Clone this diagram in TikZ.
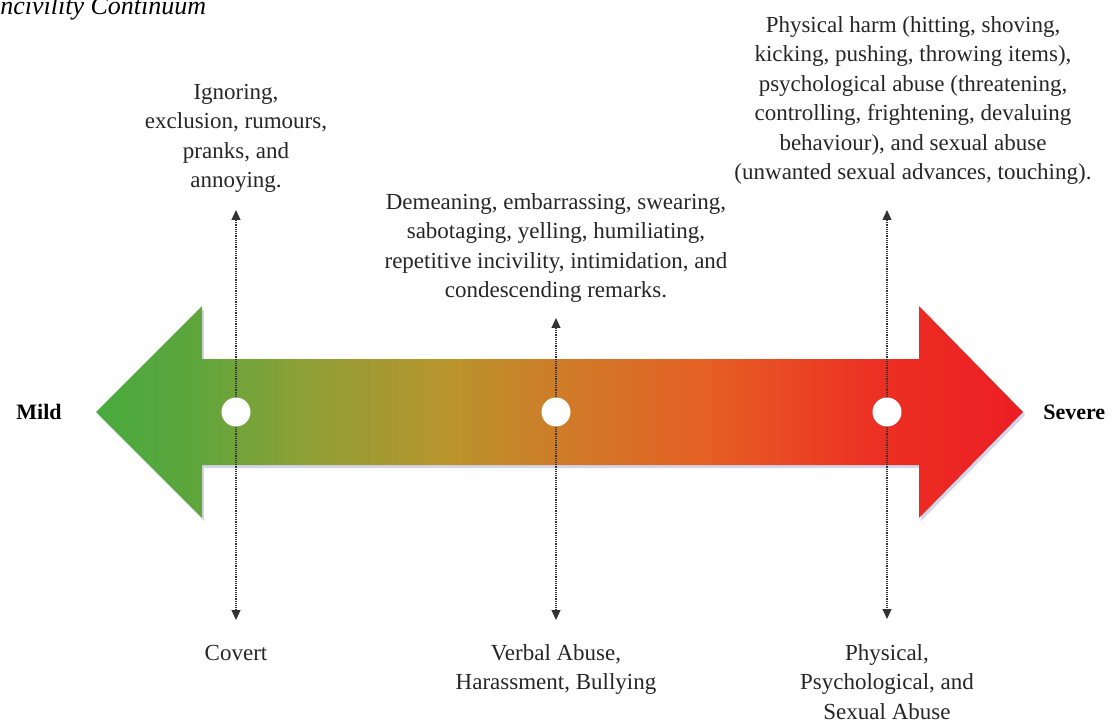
\documentclass[tikz,border=0pt]{standalone}
\usepackage{fontspec}
\setmainfont{Liberation Serif}
\usetikzlibrary{arrows.meta,positioning,shadows}

\definecolor{mildgreen}{RGB}{72,170,62}
\definecolor{leafgreen}{RGB}{92,166,60}
\definecolor{olivegreen}{RGB}{140,160,55}
\definecolor{ochre}{RGB}{185,148,45}
\definecolor{midamber}{RGB}{206,124,40}
\definecolor{hotorange}{RGB}{230,95,36}
\definecolor{redorange}{RGB}{236,48,35}
\definecolor{severered}{RGB}{236,30,36}
\pgfdeclarehorizontalshading{continuum}{100bp}{color(0bp)=(mildgreen); color(25bp)=(mildgreen);
  color(30bp)=(leafgreen); color(36bp)=(olivegreen); color(44bp)=(ochre); color(50bp)=(midamber);
  color(58bp)=(hotorange); color(67bp)=(redorange); color(75bp)=(severered); color(100bp)=(severered)}

\begin{document}
\begin{tikzpicture}[x=1pt,y=-1pt,>={Triangle[length=10pt,width=9pt]},semithick]
\tikzstyle{dot}=[circle,fill=white,minimum size=29pt,inner sep=0pt]
\tikzstyle{txt}=[align=center,inner sep=0pt,text=black!85,font={\fontsize{23}{29.5}\selectfont}]
\tikzstyle{side}=[inner sep=0pt,font={\fontsize{22}{26}\selectfont\bfseries}]
\tikzstyle{guide}=[->,densely dotted,draw=black!80,line width=1.2pt]
\clip (0,0) rectangle (1112,722);
% title, cut by the page edge
\node[anchor=base west,font={\fontsize{26}{30}\selectfont\itshape}] (title) at (-12,15) {Incivility Continuum};
% the big arrow
\coordinate (lt) at (96,412);
\coordinate (rt) at (1023,412);
\path[shading=continuum,
      drop shadow={shadow xshift=2pt,shadow yshift=-3pt,opacity=.25,fill=blue!30!gray}]
  (lt) -- (202,306) -- (202,359) -- (919,359) -- (919,306) -- (rt)
  -- (919,518) -- (919,465) -- (202,465) -- (202,518) -- cycle;
\node[side,left=34pt of lt] (mild) {Mild};
\node[side,right=20pt of rt] (severe) {Severe};
% points on the scale
\node[dot] (1) at (236,412) {};
\node[dot] (2) at (556,412) {};
\node[dot] (3) at (887,412) {};
\coordinate (1t) at (236,210);
\coordinate (1b) at (236,620);
\coordinate (2t) at (556,318);
\coordinate (2b) at (556,620);
\coordinate (3t) at (887,210);
\coordinate (3b) at (887,619);
\path (1) edge[guide] (1t) edge[guide] (1b)
      (2) edge[guide] (2t) edge[guide] (2b)
      (3) edge[guide] (3t) edge[guide] (3b);
% what each point covers
\node[txt,above=17pt of 1t] (1a) {Ignoring,\\exclusion, rumours,\\pranks, and\\annoying.};
\node[txt,above=15pt of 2t] (2a) {Demeaning, embarrassing, swearing,\\sabotaging, yelling, humiliating,\\repetitive incivility, intimidation, and\\condescending remarks.};
\node[txt,above=25pt of 3t,xshift=26pt] (3a) {Physical harm (hitting, shoving,\\kicking, pushing, throwing items),\\psychological abuse (threatening,\\controlling, frightening, devaluing\\behaviour), and sexual abuse\\(unwanted sexual advances, touching).};
\node[txt,below=25pt of 1b] (1c) {Covert};
\node[txt,below=24pt of 2b] (2c) {Verbal Abuse,\\Harassment, Bullying};
\node[txt,below=25pt of 3b] (3c) {Physical,\\Psychological, and\\Sexual Abuse};
\end{tikzpicture}
\end{document}
